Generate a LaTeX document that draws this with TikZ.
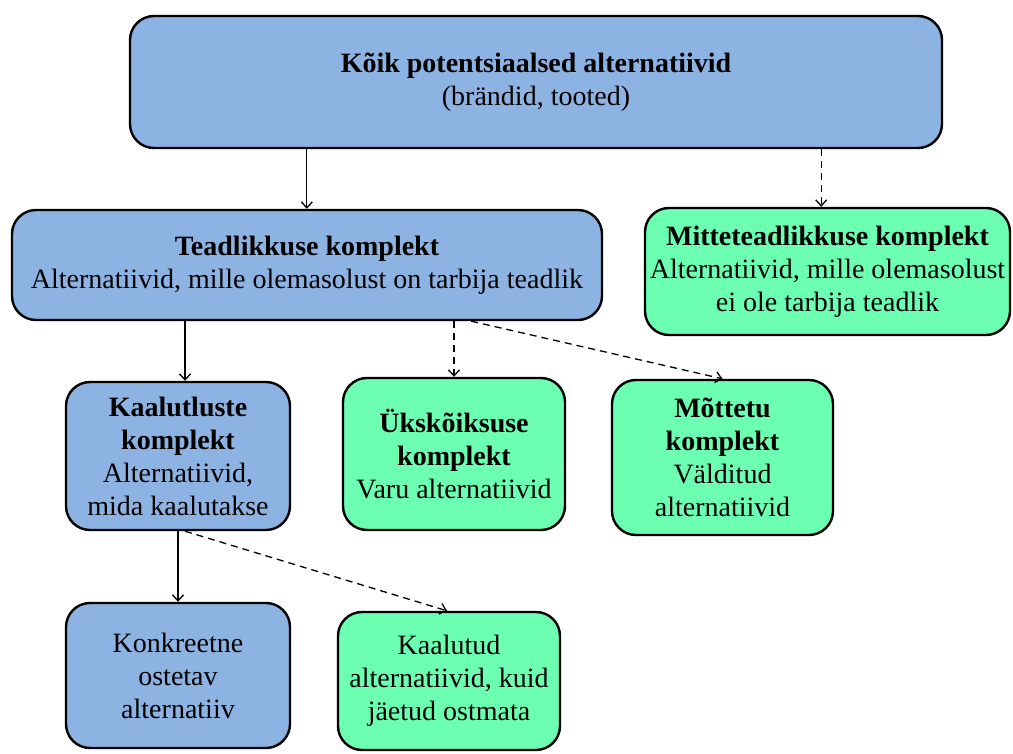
\documentclass[tikz,border=0pt]{standalone}
\usepackage{fontspec}
\setmainfont{Liberation Serif}
\usetikzlibrary{arrows.meta}
\definecolor{setblue}{HTML}{8DB3E2}
\definecolor{setgreen}{HTML}{6CFFB2}
\begin{document}
\begin{tikzpicture}[x=1pt,y=-1pt,
  setbox/.style={draw=black, line width=2.4pt, rounded corners=24pt,
    align=center, inner sep=0pt, font=\fontsize{28}{33}\selectfont},
  blueset/.style={setbox, fill=setblue},
  greenset/.style={setbox, fill=setgreen},
  link/.style={line width=1.3pt, -{Straight Barb[length=6pt,width=11pt,line width=1.3pt]}},
  maybelink/.style={link, dash pattern=on 7pt off 5pt}]
\useasboundingbox (0,0) rectangle (1013,754);

% boxes, placed by centre and size
\node[blueset, minimum width=812pt, minimum height=132pt] (all) at (536,82)
  {\textbf{Kõik potentsiaalsed alternatiivid}\\(brändid, tooted)};
\node[blueset, minimum width=590pt, minimum height=110pt] (aware) at (307,265)
  {\textbf{Teadlikkuse komplekt}\\Alternatiivid,\ mille\ olemasolust on tarbija\ teadlik};
\node[greenset, minimum width=365pt, minimum height=127pt] (unaware) at (827.5,271.5)
  {\textbf{Mitteteadlikkuse komplekt}\\Alternatiivid,\ mille\ olemasolust\\ei\ ole\ tarbija\ teadlik};
\node[blueset, minimum width=224pt, minimum height=148pt] (consider) at (178,456)
  {\textbf{Kaalutluste}\\\textbf{komplekt}\\Alternatiivid,\\mida kaalutakse};
\node[greenset, minimum width=222pt, minimum height=152pt] (indiff) at (454,454)
  {\textbf{Ükskõiksuse}\\\textbf{komplekt}\\Varu alternatiivid};
\node[greenset, minimum width=221pt, minimum height=155pt] (inept) at (722.5,457.5)
  {\textbf{Mõttetu}\\\textbf{komplekt}\\Välditud\\alternatiivid};
\node[blueset, minimum width=224pt, minimum height=145pt] (bought) at (178,675.5)
  {Konkreetne\\ostetav\\alternatiiv};
\node[greenset, minimum width=222pt, minimum height=138pt] (rejected) at (449,681)
  {Kaalutud\\alternatiivid,\ kuid\\jäetud ostmata};

% connectors
\draw[link] ([xshift=178pt]all.south west) -- ([xshift=178pt]all.south west |- aware.north);
\draw[maybelink] ([xshift=-122pt]all.south east) -- ([xshift=-122pt]all.south east |- unaware.north);
\draw[link] ([xshift=7pt]consider.north |- aware.south) -- ([xshift=7pt]consider.north);
\draw[maybelink] (indiff.north |- aware.south) -- (indiff.north);
\draw[maybelink] ([xshift=-132pt]aware.south east) -- (inept.north);
\draw[link] (bought.north |- consider.south) -- (bought.north);
\draw[maybelink] ([xshift=7pt]consider.south) -- ([xshift=-2pt]rejected.north);
\end{tikzpicture}
\end{document}
